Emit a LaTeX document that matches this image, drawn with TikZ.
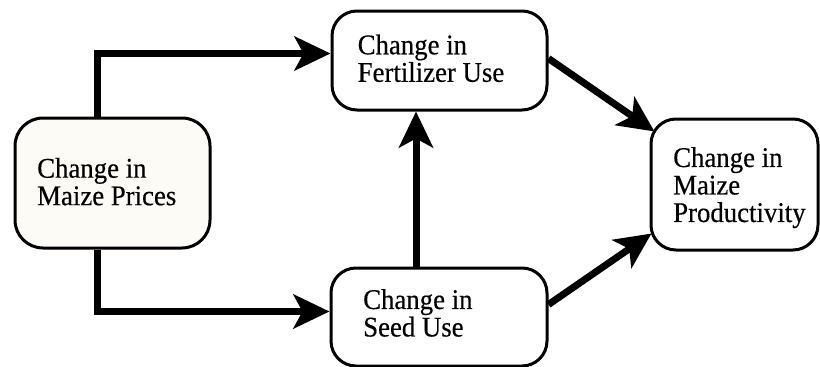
\documentclass[tikz,border=0pt]{standalone}
\usepackage{fontspec}
\setmainfont{Liberation Serif}[FakeStretch=0.94,FakeBold=0.4]
\usetikzlibrary{arrows.meta}
\definecolor{cream}{RGB}{252,251,246}
\tikzset{
  box/.style={draw=black, line width=3pt, rounded corners=25pt, inner sep=0pt, anchor=north west},
  lbl/.style={anchor=north west, inner sep=0pt, align=left,
     font=\fontsize{28.5}{27.5}\selectfont},
  conn/.style={line width=7pt, -{Stealth[length=36pt,width=34pt,inset=9pt]}}
}
\begin{document}
\begin{tikzpicture}[x=1pt,y=-1pt]
\useasboundingbox (0,0) rectangle (820,367);
\fill[white] (0,0) rectangle (820,367);
% boxes
\node[box, fill=cream, rounded corners=28pt, minimum width=195pt, minimum height=130pt] (price) at (13.5,116.5) {};
\node[box, fill=white, minimum width=215pt, minimum height=99pt] (fert) at (330.5,9.5) {};
\node[box, fill=white, minimum width=216pt, minimum height=98pt] (seed) at (329.5,266.5) {};
\node[box, fill=white, minimum width=167pt, minimum height=131pt] (prod) at (649.5,117.5) {};
% labels
\node[lbl] (tprice) at (37,157.7) {Change in\\Maize Prices};
\node[lbl] (tfert) at (357.5,34.3) {Change in\\Fertilizer Use};
\node[lbl] (tseed) at (363,289) {Change in\\Seed Use};
\node[lbl] (tprod) at (673,147) {Change in\\Maize\\Productivity};
% connectors
\draw[conn] ([xshift=-15pt]price.north) |- ([yshift=7pt]fert.west);
\draw[conn] ([xshift=-15pt]price.south) |- ([yshift=5.5pt]seed.west);
\draw[conn] ([xshift=-23pt]seed.north) -- ([xshift=-23pt]seed.north |- fert.south);
\draw[conn] ([yshift=2pt]fert.east) -- ([shift={(5pt,-14pt)}]prod.north west);
\draw[conn] ([yshift=12.5pt]seed.east) -- ([shift={(2pt,18pt)}]prod.south west);
\end{tikzpicture}
\end{document}
